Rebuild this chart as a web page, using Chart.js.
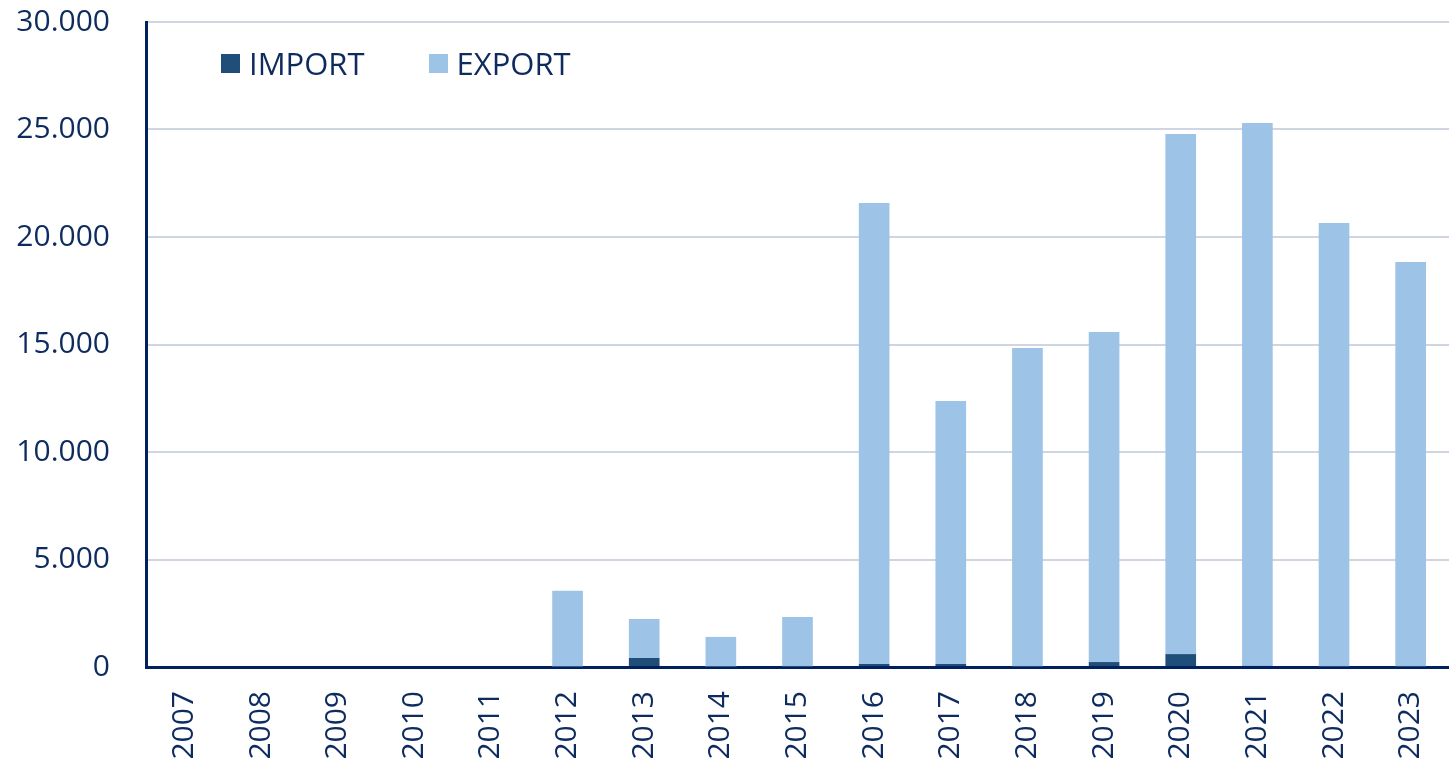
<!DOCTYPE html>
<html>
<head>
<meta charset="utf-8">
<script src="https://cdn.jsdelivr.net/npm/chart.js@4/dist/chart.umd.min.js"></script>
<style>
  html, body { margin: 0; padding: 0; background: #fff; }
  #wrap { position: relative; width: 1449px; height: 764px; }
  #legend { position: absolute; left: 221px; top: 42px; font-family: "Open Sans", sans-serif;
            font-size: 31px; color: #0d2b5e; display: flex; gap: 64px; }
  #legend span { display: inline-flex; align-items: center; }
  #legend i { display: inline-block; width: 19px; height: 19px; margin-right: 9px; }
</style>
</head>
<body>
<div id="wrap">
  <canvas id="barChart" width="1449" height="764"></canvas>
  <div id="legend">
    <span><i style="background:#1f4e79"></i>IMPORT</span>
    <span><i style="background:#9dc3e6"></i>EXPORT</span>
  </div>
</div>
<script>
const years = ['2007','2008','2009','2010','2011','2012','2013','2014','2015','2016','2017','2018','2019','2020','2021','2022','2023'];
const importValues = [0, 0, 0, 0, 0, 20, 420, 10, 30, 140, 140, 30, 230, 600, 50, 30, 30];
const exportValues = [0, 0, 0, 0, 0, 3530, 1810, 1390, 2300, 21440, 12230, 14810, 15350, 24190, 25250, 20620, 18810];
const yTicks = [0, 5000, 10000, 15000, 20000, 25000, 30000];

const navy = '#0d2b5e';

const ctx = document.getElementById('barChart').getContext('2d');
new Chart(ctx, {
    type: 'bar',
    data: {
        labels: years,
        datasets: [{
            label: 'IMPORT',
            data: importValues,
            backgroundColor: '#1f4e79'
        }, {
            label: 'EXPORT',
            data: exportValues,
            backgroundColor: '#9dc3e6'
        }]
    },
    options: {
        responsive: false,
        animation: false,
        layout: { padding: { top: 0, right: 0 } },
        datasets: { bar: { barPercentage: 0.4, categoryPercentage: 1 } },
        plugins: {
            legend: { display: false },
            tooltip: { enabled: false }
        },
        scales: {
            x: {
                stacked: true,
                grid: { display: false },
                border: { color: '#002060', width: 3 },
                afterFit: axis => { axis.height = 97; axis.paddingRight = 0; axis.paddingLeft = 0; },
                ticks: {
                    color: navy,
                    font: { family: 'Open Sans', size: 30 },
                    maxRotation: 90,
                    minRotation: 90,
                    padding: 16
                }
            },
            y: {
                stacked: true,
                min: 0,
                max: 30000,
                afterBuildTicks: axis => { axis.ticks = yTicks.map(v => ({ value: v })); },
                afterFit: axis => { axis.width = 146; axis.paddingTop = 22; axis.paddingBottom = 0; },
                grid: { color: '#d0d5e2', lineWidth: 2, drawTicks: false },
                border: { color: '#002060', width: 3 },
                ticks: {
                    color: navy,
                    font: { family: 'Open Sans', size: 30 },
                    padding: 36,
                    callback: v => v.toLocaleString('de-DE')
                }
            }
        }
    }
});
</script>
</body>
</html>
